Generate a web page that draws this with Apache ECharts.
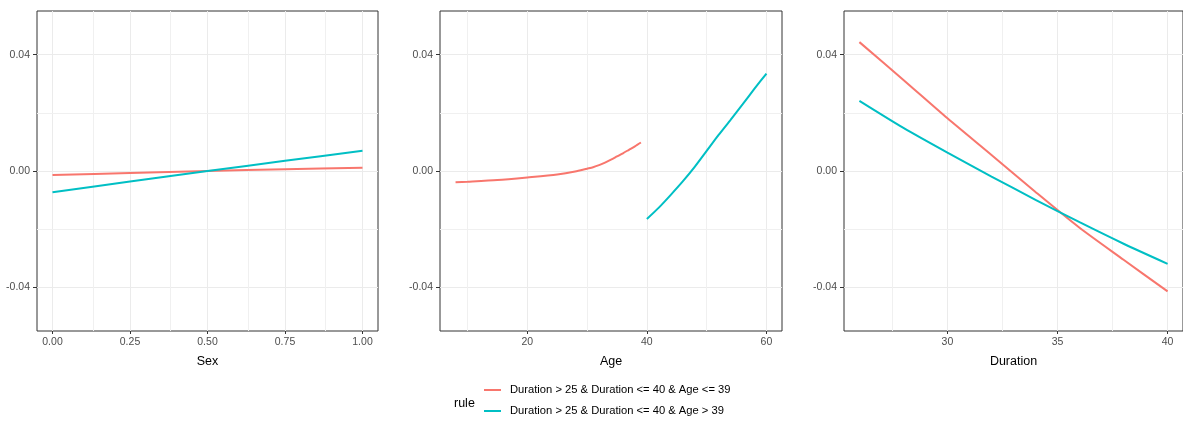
<!DOCTYPE html>
<html>
<head>
<meta charset="utf-8">
<title>Rule effects by feature</title>
<script src="https://cdn.jsdelivr.net/npm/echarts@6/dist/echarts.min.js"></script>
<style>
  html, body { margin: 0; padding: 0; background: #ffffff; }
  #chart { width: 1183px; height: 423px; }
</style>
</head>
<body>
<div id="chart"></div>
<script>
// Rule labels
const ruleLow = 'Duration > 25 & Duration <= 40 & Age <= 39';
const ruleHigh = 'Duration > 25 & Duration <= 40 & Age > 39';

// Sex panel
const sexX = [0, 0.25, 0.5, 0.75, 1];
const sexLow = [-0.0014, -0.0007, 0.0000, 0.0006, 0.0011];
const sexHigh = [-0.0073, -0.0036, 0.0000, 0.0035, 0.0070];

// Age panel (each rule covers its own age range)
const ageLowX = [8, 10, 15, 20, 25, 28, 30, 31, 32, 33, 34, 35, 36, 37, 38, 39];
const ageLowY = [-0.0039, -0.0037, -0.0031, -0.0022, -0.0012, -0.0002, 0.0008, 0.0013, 0.0020, 0.0029, 0.0039, 0.0050, 0.0061, 0.0073, 0.0085, 0.0098];
const ageHighX = [40, 42, 44, 46, 48, 50, 52, 54, 56, 58, 60];
const ageHighY = [-0.0165, -0.0126, -0.0082, -0.0036, 0.0014, 0.0069, 0.0124, 0.0176, 0.0229, 0.0283, 0.0335];

// Duration panel
const durX = [26, 28, 30, 32, 34, 36, 38, 40];
const durLow = [0.0443, 0.0313, 0.0181, 0.0055, -0.0072, -0.0195, -0.0305, -0.0414];
const durHigh = [0.0241, 0.0148, 0.0063, -0.0019, -0.0099, -0.0176, -0.0250, -0.0319];

// Axis breaks
const yMajor = [-0.04, 0, 0.04];
const yMinor = [-0.02, 0.02];
const sexMajor = [0, 0.25, 0.5, 0.75, 1];
const sexMinor = [0.125, 0.375, 0.625, 0.875];
const ageMajor = [20, 40, 60];
const ageMinor = [10, 30, 50];
const durMajor = [30, 35, 40];
const durMinor = [27.5, 32.5, 37.5];

const RED = '#F8766D';
const CYAN = '#00BFC4';
const FONT = '"Liberation Sans", Arial, sans-serif';

const zip = (xs, ys) => xs.map((x, i) => [x, ys[i]]);

const panels = [
  { left: 37, width: 341, min: -0.05, max: 1.05, title: 'Sex', major: sexMajor, minor: sexMinor,
    fmt: v => v.toFixed(2),
    lines: [[ruleLow, RED, zip(sexX, sexLow)], [ruleHigh, CYAN, zip(sexX, sexHigh)]] },
  { left: 440, width: 342, min: 5.4, max: 62.6, title: 'Age', major: ageMajor, minor: ageMinor,
    fmt: v => String(v),
    lines: [[ruleLow, RED, zip(ageLowX, ageLowY)], [ruleHigh, CYAN, zip(ageHighX, ageHighY)]] },
  { left: 844, width: 340, min: 25.3, max: 40.7, title: 'Duration', major: durMajor, minor: durMinor,
    fmt: v => String(v),
    lines: [[ruleLow, RED, zip(durX, durLow)], [ruleHigh, CYAN, zip(durX, durHigh)]] }
];

const TOP = 11, HEIGHT = 320;
const grid = [], xAxis = [], yAxis = [], series = [];

panels.forEach((p, i) => {
  grid.push({
    left: p.left, top: TOP, width: p.width, height: HEIGHT,
    show: true, borderColor: '#333333', borderWidth: 1, backgroundColor: 'transparent'
  });
  xAxis.push({
    type: 'value', gridIndex: i, min: p.min, max: p.max, position: 'bottom',
    name: p.title, nameLocation: 'middle', nameGap: 24,
    nameTextStyle: { color: '#000000', fontSize: 12.5, fontFamily: FONT },
    axisLine: { show: false, onZero: false },
    axisTick: { show: true, inside: false, length: 3, customValues: p.major,
      lineStyle: { color: '#333333', width: 1 } },
    axisLabel: { show: true, customValues: p.major, margin: 6, color: '#4D4D4D',
      fontSize: 10.5, fontFamily: FONT, formatter: p.fmt },
    splitLine: { show: true, lineStyle: { color: '#EBEBEB', width: 1 } }
  });
  yAxis.push({
    type: 'value', gridIndex: i, min: -0.055, max: 0.055, position: 'left',
    axisLine: { show: false, onZero: false },
    axisTick: { show: true, inside: false, length: 4, customValues: yMajor,
      lineStyle: { color: '#333333', width: 1 } },
    axisLabel: { show: true, customValues: yMajor, margin: 7, color: '#4D4D4D',
      fontSize: 10.5, fontFamily: FONT, formatter: v => v.toFixed(2) },
    splitLine: { show: true, lineStyle: { color: '#EBEBEB', width: 1 } }
  });
  // minor grid lines, kept beneath the rule curves
  series.push({
    type: 'line', xAxisIndex: i, yAxisIndex: i, data: [], z: 1, silent: true,
    markLine: {
      z: 1, silent: true, symbol: 'none', label: { show: false }, animation: false,
      lineStyle: { color: '#F0F0F0', width: 1, type: 'solid' },
      data: p.minor.map(v => ({ xAxis: v })).concat(yMinor.map(v => ({ yAxis: v })))
    }
  });
  p.lines.forEach(([name, color, data]) => {
    series.push({
      name, type: 'line', xAxisIndex: i, yAxisIndex: i, data, z: 10,
      showSymbol: false, symbol: 'none', smooth: 0.25, silent: true,
      lineStyle: { color, width: 2 }, itemStyle: { color }
    });
  });
});

const chart = echarts.init(document.getElementById('chart'), null, { renderer: 'canvas' });
chart.setOption({
  animation: false,
  backgroundColor: '#ffffff',
  textStyle: { fontFamily: FONT },
  title: {
    text: 'rule', left: 449, top: 392,
    textStyle: { fontSize: 12.5, fontWeight: 'normal', color: '#000000', fontFamily: FONT }
  },
  legend: {
    data: [ruleLow, ruleHigh], orient: 'vertical', left: 484, top: 383,
    icon: 'rect', itemWidth: 17, itemHeight: 2, itemGap: 7, padding: 0,
    textStyle: { fontSize: 11.2, color: '#000000', fontFamily: FONT, lineHeight: 14, padding: [0, 0, 0, 4] }
  },
  grid, xAxis, yAxis, series
});
</script>
</body>
</html>
